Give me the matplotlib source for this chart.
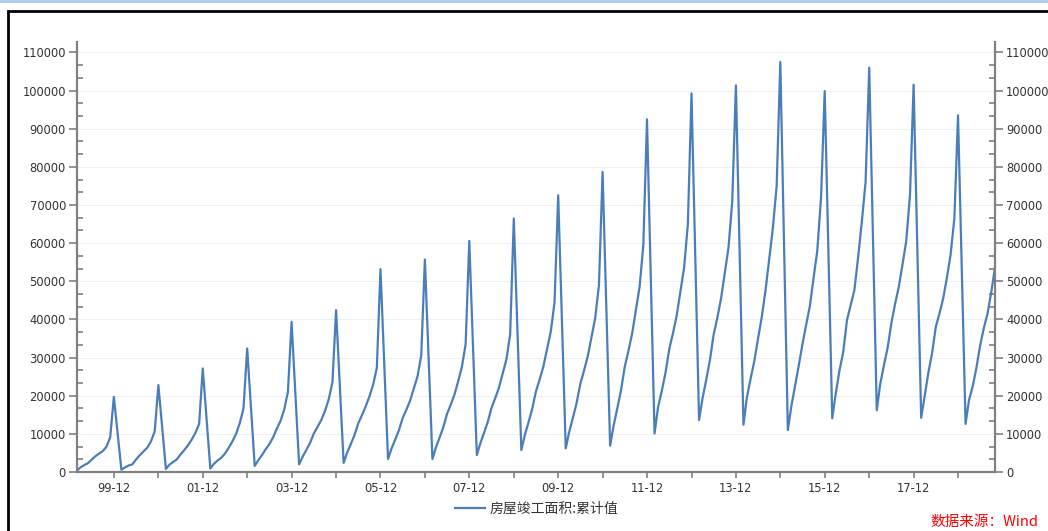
import matplotlib
matplotlib.use('Agg')
import matplotlib.pyplot as plt
import matplotlib.dates as mdates
from matplotlib.ticker import MultipleLocator, AutoMinorLocator
from matplotlib.lines import Line2D
from matplotlib.patches import Rectangle
import datetime as dt
import pandas as pd

# 房屋竣工面积:累计值 (万平方米), Feb..Dec each year (no January figure)
y1999 = [400, 1200, 1800, 2300, 3200, 4100, 4800, 5500, 6600, 9100, 19700]
y2000 = [600, 1200, 1700, 2000, 3300, 4400, 5400, 6400, 8000, 10700, 22800]
y2001 = [800, 1900, 2600, 3300, 4600, 5700, 7000, 8500, 10200, 12600, 27150]
y2002 = [900, 2100, 3000, 3700, 4800, 6300, 8000, 10000, 12800, 16700, 32400]
y2003 = [1600, 3000, 4400, 5900, 7300, 9000, 11300, 13400, 16300, 21000, 39370]
y2004 = [2000, 4000, 5800, 7600, 10100, 11800, 13600, 16000, 19000, 23500, 42430]
y2005 = [2400, 4990, 7320, 9650, 12760, 14830, 17160, 19800, 22800, 27300, 53170]
y2006 = [3400, 6080, 8490, 10900, 14120, 16260, 18680, 21890, 25000, 30500, 55700]
y2007 = [3400, 6360, 9020, 11690, 15240, 17610, 20270, 23820, 27500, 33500, 60580]
y2008 = [4450, 7550, 10340, 13130, 16850, 19330, 22110, 25830, 29500, 36000, 66440]
y2009 = [5750, 9590, 13050, 16510, 21130, 24200, 27660, 32270, 36800, 44500, 72550]
y2010 = [6200, 10440, 14250, 18060, 23140, 26530, 30340, 35420, 40300, 49000, 78660]
y2011 = [6900, 12060, 16700, 21350, 27540, 31670, 36310, 42500, 48500, 59500, 92450]
y2012 = [10100, 17000, 21300, 26000, 32200, 36300, 41000, 47300, 53500, 65000, 99260]
y2013 = [13600, 19200, 24200, 29300, 36000, 40400, 45500, 52200, 58800, 71000, 101360]
y2014 = [12400, 19500, 24500, 29000, 35000, 40500, 47500, 56000, 64000, 75000, 107470]
y2015 = [11000, 17100, 22500, 27800, 33500, 38500, 43500, 51000, 58000, 72000, 99870]
y2016 = [14060, 20600, 26700, 31400, 39800, 43700, 47700, 56400, 65500, 76000, 106000]
y2017 = [16200, 23000, 28000, 32500, 39000, 44000, 48500, 54500, 60500, 72500, 101540]
y2018 = [14200, 19700, 26000, 31000, 38000, 41500, 45500, 51000, 57000, 66500, 93500]
y2019 = [12600, 18800, 22500, 27300, 33200, 37700, 41600, 47300, 53700]

values = (y1999 + y2000 + y2001 + y2002 + y2003 + y2004 + y2005 + y2006 + y2007
          + y2008 + y2009 + y2010 + y2011 + y2012 + y2013 + y2014 + y2015
          + y2016 + y2017 + y2018 + y2019)

months = pd.date_range('1999-02-01', '2019-10-01', freq='MS')
months = months[months.month != 1]

series_name = '房屋竣工面积:累计值'
source_text = '数据来源：Wind'

line_color = '#4a7ebb'
axis_color = '#808080'
text_color = '#333333'
cjk = ['Noto Sans CJK SC', 'DejaVu Sans']

W, H = 1048, 531
fig = plt.figure(figsize=(W / 100, H / 100), dpi=100)
ax = fig.add_axes([77 / W, 1 - 472 / H, (995 - 77) / W, (472 - 41.7) / H])

ax.plot(months, values, color=line_color, lw=1.6)

ax.set_xlim(months[0], months[-1])
ax.set_ylim(0, 112800)

ax.yaxis.set_major_locator(MultipleLocator(10000))
ax.yaxis.set_minor_locator(AutoMinorLocator(3))
ax.yaxis.set_ticks_position('both')
ax.tick_params(axis='y', which='major', direction='out', length=6, width=1.2,
               color=axis_color, labelsize=8.3, labelcolor=text_color,
               labelleft=True, labelright=True, pad=2)
ax.tick_params(axis='y', which='minor', direction='in', length=4, width=1.2,
               color=axis_color)

# labelled ticks every other December, unlabelled ones in between
major_dates = [dt.datetime(y, 12, 1) for y in range(1999, 2018, 2)]
minor_dates = [dt.datetime(y, 12, 1) for y in range(2000, 2019, 2)]
ax.set_xticks(major_dates)
ax.set_xticks(minor_dates, minor=True)
ax.xaxis.set_major_formatter(mdates.DateFormatter('%y-%m'))
ax.tick_params(axis='x', which='both', direction='out', length=4, width=1.2,
               color=axis_color)
ax.tick_params(axis='x', which='major', labelsize=8.3, labelcolor=text_color, pad=3)

for side in ['left', 'right', 'bottom']:
    ax.spines[side].set_color(axis_color)
    ax.spines[side].set_linewidth(1.6)
ax.spines['top'].set_visible(False)

ax.yaxis.grid(True, color='#f0f0f0', lw=0.8)
ax.set_axisbelow(True)

handle = Line2D([], [], color=line_color, lw=1.6)
fig.legend([handle], [series_name], loc='center', bbox_to_anchor=(0.512, 1 - 509 / H),
           frameon=False, handlelength=2.2, handletextpad=0.3,
           prop={'family': cjk, 'size': 10}, labelcolor=text_color)

# outer frame and top strip
fig.add_artist(Rectangle((8 / W, -0.05), 1.1, 1 - 11 / H + 0.05, fill=False,
                         ec='black', lw=2, transform=fig.transFigure))
fig.add_artist(Line2D([0, 1], [1 - 1 / H, 1 - 1 / H], color='#a9cbe9', lw=2,
                      transform=fig.transFigure))

fig.text(930 / W, 1 - 515 / H, source_text, color='red', fontsize=10.5,
         style='italic', family=cjk, va='top', ha='left')

fig.savefig('out.png', dpi=100)
